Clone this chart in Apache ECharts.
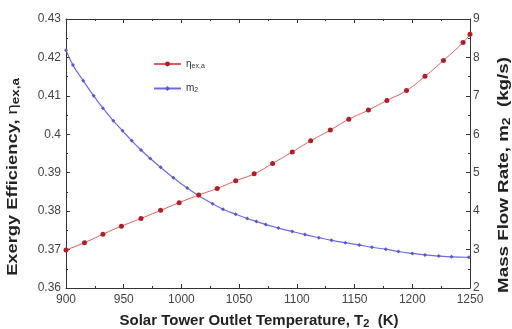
<!DOCTYPE html>
<html>
<head>
<meta charset="utf-8">
<script src="https://cdn.jsdelivr.net/npm/echarts@6/dist/echarts.min.js"></script>
<style>
  html, body { margin: 0; padding: 0; background: #fff; }
  #chart { width: 512px; height: 329px; }
</style>
</head>
<body>
<div id="chart"></div>
<script>
// Exergy efficiency of the solar tower loop (left axis)
const effTemps = [900, 916, 932, 948, 965, 982, 998, 1015, 1031, 1047, 1063, 1079,
  1096, 1112, 1129, 1145, 1162, 1178, 1195, 1211, 1227, 1244, 1250];
const effValues = [0.3699, 0.3718, 0.3740, 0.3761, 0.3781, 0.3802, 0.3822, 0.3842,
  0.3859, 0.3879, 0.3897, 0.3924, 0.3954, 0.3983, 0.4011, 0.4039, 0.4063, 0.4088,
  0.4114, 0.4151, 0.4192, 0.4239, 0.4260];

// Mass flow rate m2 (right axis, kg/s)
const flowTemps = [900, 906, 915, 924, 932, 941, 949, 957, 965, 973, 982, 993, 1005,
  1015, 1027, 1036, 1047, 1057, 1065, 1073, 1084, 1096, 1107, 1119, 1130, 1142, 1154,
  1165, 1177, 1188, 1200, 1211, 1223, 1234, 1249];
const flowValues = [8.19, 7.80, 7.39, 7.00, 6.68, 6.35, 6.09, 5.83, 5.59, 5.37, 5.14,
  4.87, 4.60, 4.40, 4.19, 4.05, 3.92, 3.81, 3.73, 3.65, 3.56, 3.47, 3.39, 3.31, 3.24,
  3.18, 3.12, 3.06, 3.01, 2.95, 2.90, 2.86, 2.83, 2.81, 2.80];

const xTicks = { min: 900, max: 1250, step: 50 };
const leftTicks = { min: 0.36, max: 0.43, step: 0.01 };
const rightTicks = { min: 2, max: 9, step: 1 };

const pair = (xs, ys) => xs.map((x, i) => [x, ys[i]]);

const FONT = 'Liberation Sans, Arial, sans-serif';
const AXIS_COLOR = '#333';
const LABEL_COLOR = '#444';

const frameAxis = {
  axisLine: { show: true, onZero: false, lineStyle: { color: AXIS_COLOR, width: 1 } },
  axisTick: { show: true, inside: true, length: 4, lineStyle: { color: AXIS_COLOR } },
  minorTick: { show: true, splitNumber: 2, length: 2, lineStyle: { color: AXIS_COLOR } },
  splitLine: { show: false },
  axisLabel: { color: LABEL_COLOR, fontSize: 12, fontFamily: FONT }
};

const chart = echarts.init(document.getElementById('chart'), null, { renderer: 'canvas' });

const titleRich = {
  sub: { fontSize: 11, fontWeight: 'bold', fontFamily: FONT, color: '#222', padding: [6, 0, 0, 0] },
  eta: { fontSize: 15, fontWeight: 'normal', fontFamily: FONT, color: '#222' }
};

chart.setOption({
  backgroundColor: '#fff',
  animation: false,
  grid: { left: 66, right: 42, top: 19, bottom: 41 },
  xAxis: [
    Object.assign({}, frameAxis, {
      type: 'value', position: 'bottom',
      min: xTicks.min, max: xTicks.max, interval: xTicks.step,
      axisLabel: Object.assign({}, frameAxis.axisLabel, { margin: 6, formatter: v => String(v) })
    }),
    Object.assign({}, frameAxis, {
      type: 'value', position: 'top',
      min: xTicks.min, max: xTicks.max, interval: xTicks.step,
      axisLabel: { show: false }
    })
  ],
  yAxis: [
    Object.assign({}, frameAxis, {
      type: 'value', position: 'left',
      min: leftTicks.min, max: leftTicks.max, interval: leftTicks.step,
      axisLabel: Object.assign({}, frameAxis.axisLabel, { margin: 5, formatter: v => String(+v.toFixed(2)) })
    }),
    Object.assign({}, frameAxis, {
      type: 'value', position: 'right',
      min: rightTicks.min, max: rightTicks.max, interval: rightTicks.step,
      axisLabel: Object.assign({}, frameAxis.axisLabel, { margin: 3 })
    })
  ],
  legend: {
    orient: 'vertical',
    left: 148, top: 54,
    itemWidth: 27, itemHeight: 6, itemGap: 14,
    textStyle: {
      fontFamily: FONT, fontSize: 10, color: '#333',
      rich: {
        eta: { fontSize: 10, color: '#333', fontFamily: FONT },
        sub: { fontSize: 7, color: '#333', fontFamily: FONT, padding: [4, 0, 0, 0] }
      }
    },
    formatter: name => name === 'eta' ? '{eta|η}{sub|ex,a}' : '{eta|m}{sub|2}',
    data: ['eta', 'm2']
  },
  series: [
    {
      name: 'eta', type: 'line', xAxisIndex: 0, yAxisIndex: 0,
      data: pair(effTemps, effValues),
      smooth: true,
      symbol: 'circle', symbolSize: 5,
      lineStyle: { color: '#e8585a', width: 1 },
      itemStyle: { color: '#b01e28' },
      z: 3
    },
    {
      name: 'm2', type: 'line', xAxisIndex: 0, yAxisIndex: 1,
      data: pair(flowTemps, flowValues),
      smooth: 0.4,
      symbol: 'diamond', symbolSize: 4,
      lineStyle: { color: '#6b6be6', width: 1.2 },
      itemStyle: { color: '#5858c8' },
      z: 2
    }
  ],
  graphic: [
    {
      // vertical titles are drawn a little elongated along their run
      type: 'text', x: 13, y: 177, rotation: Math.PI / 2, scaleX: 1.22,
      style: {
        text: 'Exergy Efficiency, {eta|η}{sub|ex,a}',
        align: 'center', verticalAlign: 'middle',
        font: 'bold 15px ' + FONT, fill: '#222',
        rich: titleRich
      }
    },
    {
      type: 'text', x: 504, y: 175, rotation: Math.PI / 2, scaleX: 1.25,
      style: {
        text: 'Mass Flow Rate, m{sub|2}  (kg/s)',
        align: 'center', verticalAlign: 'middle',
        font: 'bold 15px ' + FONT, fill: '#222',
        rich: titleRich
      }
    },
    {
      type: 'text', x: 259, y: 321,
      style: {
        text: 'Solar Tower Outlet Temperature, T{sub|2}  (K)',
        align: 'center', verticalAlign: 'middle',
        font: 'bold 15px ' + FONT, fill: '#222',
        rich: titleRich
      }
    }
  ]
});
</script>
</body>
</html>
